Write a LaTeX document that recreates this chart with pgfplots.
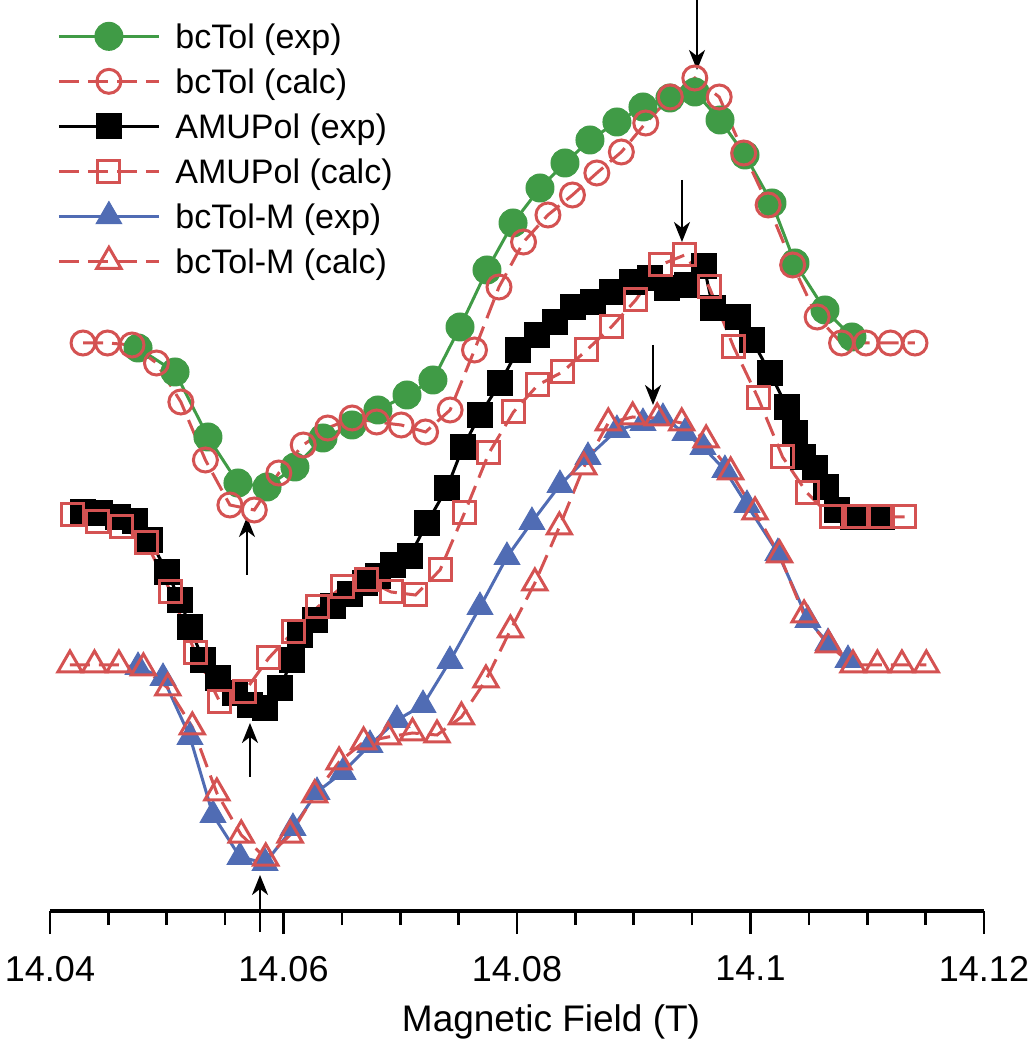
\documentclass[border=0pt]{standalone}
\usepackage{pgfplots}
\pgfplotsset{compat=1.18}
\usepackage{fontspec}
\setmainfont{Liberation Sans}
\usetikzlibrary{arrows.meta}
\definecolor{cgreen}{RGB}{64,155,70}
\definecolor{cred}{RGB}{212,82,82}
\definecolor{cblue}{RGB}{80,108,180}
\begin{document}
\begin{tikzpicture}
\begin{axis}[
  name=ax,
  scale only axis, width=467pt, height=455.5pt,
  xmin=14.04, xmax=14.12, ymin=0, ymax=911,
  axis x line=bottom, axis y line=none,
  x axis line style={-, line width=1.6pt},
  xtick={14.04,14.06,14.08,14.1,14.12},
  xticklabels={14.04,14.06,14.08,14.1,14.12},
  minor x tick num=3,
  tick align=outside,
  major tick length=11.5pt, minor tick length=7pt,
  tick style={black, line width=1.3pt},
  /pgf/number format/assume math mode=true,
  ticklabel style={font=\fontsize{18}{20}\selectfont},
  xticklabel style={yshift=-7.5pt},
  xlabel={Magnetic Field (T)},
  xlabel style={font=\fontsize{18.5}{21}\selectfont, at={(axis description cs:0.5364,-0.122)}, anchor=center},
  clip=false,
  legend cell align=left,
  legend image code/.code={\draw[mark repeat=2,mark phase=2,#1] plot coordinates {(0pt,0pt) (25pt,0pt) (50pt,0pt)};},
  legend style={draw=none, fill=none, at={(rel axis cs:0.0075,0.9825)}, anchor=north west,
    inner sep=0pt, row sep=2.5pt, font=\fontsize{17}{20}\selectfont,
    nodes={inner sep=0pt, text height=16pt, text depth=4pt},
    /tikz/every odd column/.append style={column sep=7.5pt}},
]
\addplot[cgreen, line width=1.5pt, mark=*, mark size=7pt, mark options={solid, fill=cgreen, draw=cgreen, line width=0.5pt}] coordinates {
(14.04754,563)(14.05071,539)(14.05353,474)(14.05610,428)(14.05859,424)(14.06098,444)(14.06338,473)(14.06587,486)(14.06809,501)(14.07058,516)(14.07280,531)(14.07512,584)(14.07743,641)(14.07966,688)(14.08197,723)(14.08411,748)(14.08625,771)(14.08856,789)(14.09079,804)(14.09310,813)(14.09524,819)(14.09739,791)(14.09953,756)(14.10184,708)(14.10381,648)(14.10638,601)(14.10869,574)};
\addlegendentry{bcTol (exp)}
\addplot[cred, line width=1.5pt, dash pattern=on 10pt off 4.5pt, mark=o, mark size=6pt, mark options={solid, line width=1.5pt}] coordinates {
(14.04283,568)(14.04493,568)(14.04702,566)(14.04912,548)(14.05121,509)(14.05331,451)(14.05541,406)(14.05750,401)(14.05960,438)(14.06169,466)(14.06379,483)(14.06588,493)(14.06798,489)(14.07008,486)(14.07217,479)(14.07427,501)(14.07636,561)(14.07846,624)(14.08056,669)(14.08265,696)(14.08475,716)(14.08684,738)(14.08894,759)(14.09103,788)(14.09313,814)(14.09523,833)(14.09732,814)(14.09942,758)(14.10151,706)(14.10361,646)(14.10571,594)(14.10780,568)(14.10990,568)(14.11199,568)(14.11409,568)};
\addlegendentry{bcTol (calc)}
\addplot[black, line width=1.5pt, mark=square*, mark size=6.3pt, mark options={solid, fill=black, line width=0.5pt}] coordinates {
(14.04283,399)(14.04428,398)(14.04582,394)(14.04728,390)(14.04857,371)(14.05002,339)(14.05113,311)(14.05199,284)(14.05310,251)(14.05439,233)(14.05585,218)(14.05713,206)(14.05842,203)(14.05970,223)(14.06073,251)(14.06141,276)(14.06270,291)(14.06424,305)(14.06570,317)(14.06698,328)(14.06809,335)(14.06938,346)(14.07083,355)(14.07229,388)(14.07400,423)(14.07537,464)(14.07683,496)(14.07854,528)(14.08008,561)(14.08171,576)(14.08325,589)(14.08479,604)(14.08651,609)(14.08814,619)(14.08985,629)(14.09139,633)(14.09285,623)(14.09456,626)(14.09601,645)(14.09679,603)(14.09893,594)(14.10013,571)(14.10167,538)(14.10312,504)(14.10381,478)(14.10449,454)(14.10552,443)(14.10646,424)(14.10741,401)(14.10878,394)(14.11006,394)(14.11126,394)};
\addlegendentry{AMUPol (exp)}
\addplot[cred, line width=1.5pt, dash pattern=on 10pt off 4.5pt, mark=square, mark size=5.5pt, mark options={solid, line width=1.5pt}] coordinates {
(14.04197,396)(14.04407,389)(14.04616,384)(14.04826,368)(14.05035,319)(14.05245,258)(14.05455,209)(14.05664,219)(14.05874,253)(14.06083,279)(14.06293,304)(14.06502,324)(14.06712,331)(14.06922,319)(14.07131,316)(14.07341,341)(14.07550,398)(14.07760,458)(14.07970,499)(14.08179,526)(14.08389,539)(14.08598,561)(14.08808,584)(14.09017,611)(14.09227,646)(14.09437,656)(14.09646,624)(14.09856,564)(14.10065,513)(14.10275,454)(14.10485,418)(14.10694,394)(14.10904,394)(14.11113,394)(14.11323,394)};
\addlegendentry{AMUPol (calc)}
\addplot[cblue, line width=1.5pt, mark=triangle*, mark size=7.4pt, mark options={solid, fill=cblue, draw=cblue, line width=0.5pt}] coordinates {
(14.04754,244)(14.04968,233)(14.05199,174)(14.05396,96)(14.05627,54)(14.05842,48)(14.06081,83)(14.06287,119)(14.06510,139)(14.06741,166)(14.06972,191)(14.07195,206)(14.07426,250)(14.07683,304)(14.07914,354)(14.08128,389)(14.08368,426)(14.08608,454)(14.08856,481)(14.09079,488)(14.09250,493)(14.09439,478)(14.09593,464)(14.09781,441)(14.09970,406)(14.10235,358)(14.10492,291)(14.10664,268)(14.10835,251)};
\addlegendentry{bcTol-M (exp)}
\addplot[cred, line width=1.5pt, dash pattern=on 10pt off 4.5pt, mark=triangle, mark size=7pt, mark options={solid, line width=1.5pt}] coordinates {
(14.04171,246)(14.04381,246)(14.04590,246)(14.04800,243)(14.05009,223)(14.05219,184)(14.05429,118)(14.05638,76)(14.05848,53)(14.06057,76)(14.06267,116)(14.06476,149)(14.06686,169)(14.06896,174)(14.07105,178)(14.07315,176)(14.07524,194)(14.07734,231)(14.07944,281)(14.08153,328)(14.08363,384)(14.08572,444)(14.08782,488)(14.08991,494)(14.09201,493)(14.09411,488)(14.09620,471)(14.09830,439)(14.10039,399)(14.10249,356)(14.10459,296)(14.10668,266)(14.10878,246)(14.11087,246)(14.11297,246)(14.11506,246)};
\addlegendentry{bcTol-M (calc)}
\begin{scope}[line width=1.1pt, -{Stealth[length=10pt,width=8pt,inset=3pt]}]
\draw (axis cs:14.09542,911) -- (axis cs:14.09542,841);
\draw (axis cs:14.09413,731) -- (axis cs:14.09413,669);
\draw (axis cs:14.09165,566) -- (axis cs:14.09165,506);
\draw (axis cs:14.05687,336) -- (axis cs:14.05687,394);
\draw (axis cs:14.05713,134) -- (axis cs:14.05713,188);
\draw (axis cs:14.05799,-21) -- (axis cs:14.05799,36);
\end{scope}
\end{axis}
\pgfresetboundingbox
\path[use as bounding box] ([xshift=-25pt,yshift=-69.5pt]ax.south west) rectangle ([xshift=493pt,yshift=455.5pt]ax.south west);
\end{tikzpicture}
\end{document}
